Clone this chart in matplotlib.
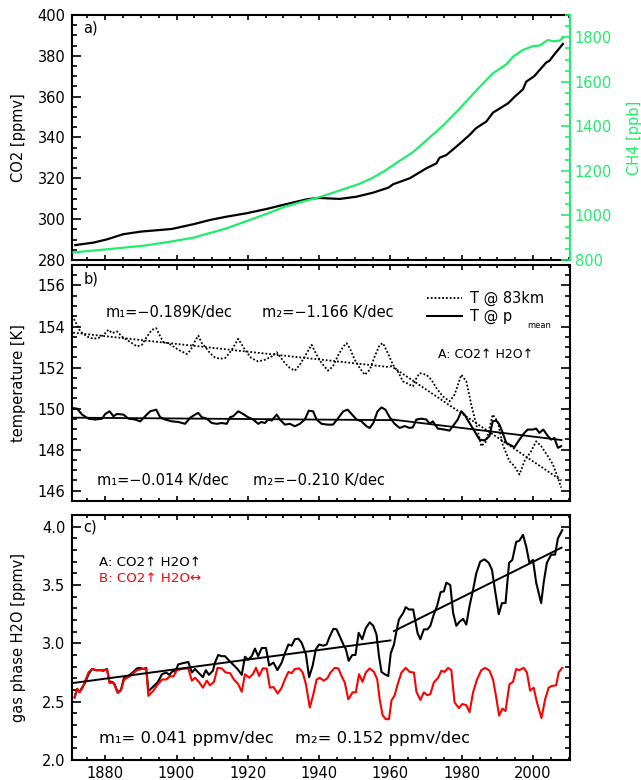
import matplotlib
matplotlib.use('Agg')
import matplotlib.pyplot as plt
from matplotlib.ticker import MultipleLocator, FormatStrFormatter

# ---------------- data ----------------
co2_year = [1871.6, 1876.7, 1880.5, 1885.0, 1890.0, 1895.4, 1898.7, 1904.7, 1909.4, 1914.0,
            1919.7, 1925.3, 1930.9, 1936.5, 1939.8, 1945.8, 1950.5, 1955.2, 1959.4, 1960.8,
            1965.4, 1970.1, 1972.9, 1973.8, 1975.7, 1978.5, 1982.2, 1984.0, 1986.9, 1988.8,
            1993.0, 1994.9, 1997.2, 1998.1, 2000.4, 2003.7, 2004.6, 2006.0, 2008.4]
co2 = [287.3, 288.5, 290.1, 292.6, 293.9, 294.7, 295.2, 297.5, 299.6, 301.2,
       302.9, 305.0, 307.4, 309.7, 310.4, 309.9, 311.0, 313.0, 315.4, 317.1,
       320.0, 324.9, 327.3, 330.1, 331.4, 335.5, 341.2, 344.5, 347.8, 352.2,
       356.7, 360.0, 363.6, 367.3, 370.1, 376.7, 377.5, 380.7, 385.8]

ch4_year = [1871.1, 1880.5, 1890.7, 1898.2, 1904.7, 1914.0, 1919.2, 1924.9, 1930.4, 1936.0,
            1939.3, 1945.4, 1951.0, 1954.8, 1958.5, 1962.2, 1966.4, 1970.1, 1974.8, 1979.4,
            1984.1, 1988.8, 1992.5, 1994.4, 1997.2, 2000.0, 2001.9, 2004.2, 2005.6, 2007.5, 2008.4]
ch4 = [834, 848, 864, 882, 900, 942, 972, 1005, 1039, 1065,
       1078, 1110, 1140, 1167, 1201, 1241, 1285, 1337, 1404, 1479,
       1561, 1639, 1678, 1713, 1743, 1760, 1763, 1788, 1782, 1785, 1797]

t83_year = [1870.7, 1871.6, 1873.0, 1874.9, 1876.7, 1878.6, 1880.0, 1880.9, 1881.9, 1883.3,
            1884.7, 1886.1, 1887.5, 1888.9, 1890.3, 1891.7, 1893.1, 1894.3, 1895.2, 1896.3,
            1897.7, 1899.1, 1900.5, 1901.9, 1902.9, 1904.0, 1905.2, 1906.1, 1907.1, 1908.3,
            1909.4, 1910.8, 1912.2, 1913.6, 1914.8, 1915.9, 1917.3, 1919.2, 1921.0, 1922.9,
            1924.8, 1926.7, 1928.1, 1929.0, 1930.4, 1931.8, 1933.2, 1934.6, 1936.0, 1937.9,
            1939.3, 1940.7, 1942.5, 1943.9, 1945.4, 1946.8, 1947.7, 1948.6, 1950.0, 1951.4,
            1952.8, 1954.2, 1955.6, 1957.0, 1957.9, 1959.3, 1960.7, 1962.1, 1963.5, 1964.5,
            1966.3, 1967.3, 1968.2, 1970.1, 1971.5, 1972.9, 1974.7, 1976.6, 1978.0, 1979.9,
            1981.3, 1982.7, 1984.1, 1985.5, 1986.9, 1988.7, 1990.1, 1991.5, 1993.4, 1994.8,
            1996.2, 1997.6, 1999.5, 2000.9, 2002.3, 2004.2, 2005.6, 2007.0, 2007.9]
t83 = [154.53, 154.24, 153.76, 153.51, 153.40, 153.47, 153.68, 153.84, 153.68, 153.76,
       153.51, 153.35, 153.19, 153.03, 153.11, 153.51, 153.84, 153.92, 153.60, 153.24,
       153.19, 153.03, 152.87, 152.75, 152.66, 152.87, 153.30, 153.56, 153.19, 152.95,
       152.70, 152.49, 152.43, 152.46, 152.70, 152.98, 153.40, 152.87, 152.46, 152.30,
       152.38, 152.54, 152.75, 152.54, 152.22, 151.98, 151.85, 152.14, 152.54, 153.11,
       152.62, 152.22, 151.85, 152.06, 152.62, 153.03, 153.19, 152.95, 152.38, 151.98,
       151.65, 151.89, 152.54, 153.11, 153.19, 152.70, 152.14, 151.81, 151.33, 151.25,
       151.08, 151.49, 151.73, 151.65, 151.41, 151.00, 150.60, 150.36, 150.68, 151.65,
       151.33, 150.19, 149.22, 148.17, 148.41, 149.71, 149.38, 148.25, 147.44, 147.20,
       146.79, 147.44, 147.93, 148.41, 148.17, 147.68, 147.28, 146.63, 146.15]

tp_year = [1870.7, 1872.1, 1873.5, 1875.3, 1877.2, 1879.1, 1880.0, 1881.2, 1882.3, 1883.3,
           1885.1, 1886.5, 1888.4, 1889.8, 1891.2, 1892.6, 1894.3, 1895.4, 1896.8, 1898.7,
           1900.5, 1902.4, 1903.8, 1905.2, 1906.1, 1907.1, 1908.5, 1909.9, 1911.3, 1912.7,
           1914.1, 1915.0, 1915.9, 1917.3, 1918.2, 1920.1, 1921.5, 1922.9, 1923.8, 1924.8,
           1925.7, 1926.7, 1928.1, 1929.0, 1930.4, 1931.8, 1933.2, 1934.6, 1936.0, 1937.1,
           1938.3, 1939.3, 1940.7, 1942.5, 1943.9, 1945.4, 1946.8, 1948.0, 1949.1, 1950.5,
           1951.9, 1953.3, 1954.2, 1955.2, 1956.4, 1957.5, 1958.6, 1959.8, 1961.2, 1962.6,
           1964.0, 1965.4, 1966.3, 1967.3, 1968.7, 1970.1, 1971.0, 1971.9, 1973.3, 1975.2,
           1976.6, 1977.5, 1978.9, 1979.9, 1980.8, 1982.2, 1983.6, 1985.0, 1986.4, 1987.8,
           1988.7, 1989.7, 1990.6, 1991.5, 1992.5, 1993.4, 1994.8, 1996.2, 1997.6, 1998.5,
           1999.9, 2000.9, 2001.8, 2002.9, 2004.2, 2005.1, 2006.0, 2007.0, 2007.9]
tp = [150.03, 150.00, 149.71, 149.51, 149.47, 149.51, 149.74, 149.87, 149.63, 149.74,
      149.71, 149.51, 149.47, 149.38, 149.63, 149.87, 149.95, 149.58, 149.47, 149.38,
      149.35, 149.26, 149.55, 149.71, 149.79, 149.58, 149.51, 149.30, 149.26, 149.30,
      149.26, 149.58, 149.63, 149.87, 149.79, 149.58, 149.47, 149.26, 149.35, 149.30,
      149.47, 149.42, 149.71, 149.47, 149.22, 149.26, 149.14, 149.26, 149.47, 149.90,
      149.87, 149.47, 149.26, 149.22, 149.22, 149.55, 149.87, 149.95, 149.74, 149.47,
      149.38, 149.14, 149.06, 149.30, 149.87, 150.06, 149.95, 149.58, 149.26, 149.06,
      149.15, 149.06, 149.09, 149.47, 149.51, 149.47, 149.26, 149.38, 149.03, 148.98,
      148.93, 149.14, 149.47, 149.87, 149.71, 149.30, 148.90, 148.49, 148.45, 148.66,
      149.38, 149.42, 149.22, 148.82, 148.33, 148.25, 148.12, 148.49, 148.82, 148.98,
      148.98, 149.03, 148.82, 148.98, 148.66, 148.49, 148.57, 148.09, 148.17]

# trend lines (end points)
trend_year1 = [1871, 1960]
trend_year2 = [1960, 2008]
t83_trend1 = [153.70, 152.02]
t83_trend2 = [152.10, 146.50]
tp_trend1 = [149.56, 149.44]
tp_trend2 = [149.48, 148.47]

h2o_a_year = [1871.4, 1872.1, 1872.8, 1873.5, 1874.4, 1875.3, 1876.3, 1877.5, 1878.6, 1879.5,
              1880.5, 1881.2, 1881.9, 1882.6, 1883.5, 1884.4, 1885.3, 1886.5, 1887.7, 1888.9,
              1889.8, 1890.7, 1891.5, 1892.1, 1893.5, 1894.8, 1895.9, 1897.1, 1898.0, 1899.0,
              1899.6, 1900.5, 1901.8, 1903.3, 1904.3, 1905.2, 1906.1, 1907.4, 1908.2, 1909.1,
              1910.2, 1910.8, 1911.7, 1912.7, 1913.6, 1914.5, 1915.8, 1917.1, 1918.3, 1919.2,
              1920.1, 1921.1, 1922.0, 1922.9, 1923.9, 1925.1, 1926.0, 1927.2, 1928.3, 1929.5,
              1930.4, 1931.4, 1932.3, 1933.2, 1934.2, 1935.1, 1936.3, 1937.2, 1938.2, 1939.1,
              1940.0, 1941.2, 1942.1, 1943.0, 1944.0, 1944.9, 1945.8, 1946.8, 1947.5, 1948.3,
              1949.3, 1950.2, 1951.1, 1952.1, 1953.1, 1954.2, 1955.2, 1956.1, 1956.8, 1957.5,
              1958.4, 1959.4, 1960.1, 1961.0, 1961.7, 1962.4, 1963.6, 1964.3, 1965.2, 1966.4,
              1967.1, 1967.6, 1968.4, 1969.4, 1970.4, 1971.2, 1972.2, 1973.1, 1974.1, 1975.0,
              1975.7, 1976.8, 1977.6, 1978.5, 1979.4, 1980.4, 1981.3, 1982.2, 1983.2, 1984.1,
              1985.2, 1986.4, 1987.6, 1988.5, 1989.4, 1990.4, 1991.3, 1992.3, 1993.3, 1994.2,
              1995.3, 1996.2, 1997.2, 1998.1, 1999.0, 2000.0, 2000.9, 2002.3, 2003.0, 2003.9,
              2005.1, 2006.2, 2007.0, 2008.2]
h2o_a = [2.537, 2.61, 2.585, 2.62, 2.665, 2.735, 2.78, 2.77, 2.77, 2.765,
         2.78, 2.67, 2.67, 2.65, 2.58, 2.60, 2.71, 2.72, 2.75, 2.785,
         2.79, 2.78, 2.79, 2.59, 2.63, 2.67, 2.735, 2.75, 2.73, 2.765,
         2.755, 2.82, 2.83, 2.84, 2.75, 2.78, 2.75, 2.71, 2.77, 2.73,
         2.765, 2.835, 2.90, 2.89, 2.89, 2.86, 2.82, 2.78, 2.73, 2.885,
         2.86, 2.89, 2.955, 2.89, 2.96, 2.96, 2.81, 2.835, 2.77, 2.835,
         2.915, 2.99, 2.98, 3.035, 3.04, 3.005, 2.905, 2.71, 2.81, 2.95,
         2.99, 2.98, 2.99, 3.06, 3.125, 3.12, 3.06, 2.99, 2.95, 2.85,
         2.90, 2.90, 3.09, 3.035, 3.13, 3.18, 3.15, 3.075, 2.89, 2.755,
         2.735, 2.72, 2.915, 2.99, 3.105, 3.205, 3.26, 3.31, 3.29, 3.29,
         3.175, 3.09, 3.035, 3.12, 3.12, 3.15, 3.25, 3.32, 3.44, 3.445,
         3.52, 3.50, 3.26, 3.15, 3.185, 3.21, 3.16, 3.32, 3.46, 3.60,
         3.70, 3.72, 3.69, 3.63, 3.445, 3.25, 3.345, 3.345, 3.69, 3.715,
         3.87, 3.88, 3.93, 3.83, 3.69, 3.715, 3.52, 3.345, 3.52, 3.69,
         3.76, 3.76, 3.90, 3.97]

h2o_b_year = [1871.4, 1872.1, 1872.8, 1873.5, 1874.4, 1875.3, 1876.3, 1877.5, 1878.6, 1880.5,
              1881.2, 1882.3, 1883.5, 1884.4, 1885.3, 1887.0, 1888.9, 1890.3, 1891.5, 1892.1,
              1893.5, 1894.8, 1895.9, 1897.1, 1898.2, 1899.1, 1900.1, 1901.5, 1903.3, 1904.3,
              1905.2, 1906.4, 1907.4, 1908.5, 1909.4, 1910.5, 1911.5, 1912.7, 1913.8, 1915.0,
              1916.1, 1917.3, 1918.3, 1919.2, 1920.4, 1921.4, 1922.3, 1923.2, 1924.2, 1925.3,
              1926.2, 1927.2, 1928.4, 1929.5, 1930.4, 1931.4, 1932.3, 1933.2, 1934.4, 1935.4,
              1936.3, 1937.4, 1938.4, 1939.3, 1940.2, 1941.3, 1942.3, 1943.2, 1944.4, 1945.4,
              1946.3, 1947.2, 1948.2, 1949.4, 1950.3, 1951.2, 1952.2, 1953.1, 1954.2, 1955.4,
              1956.3, 1957.0, 1957.8, 1958.7, 1959.6, 1960.3, 1961.2, 1961.9, 1963.1, 1964.3,
              1965.4, 1966.6, 1967.3, 1968.4, 1969.4, 1970.4, 1971.2, 1972.2, 1973.4, 1974.3,
              1975.2, 1976.2, 1977.1, 1978.0, 1979.2, 1980.2, 1981.3, 1982.2, 1983.2, 1984.3,
              1985.5, 1986.6, 1987.8, 1988.8, 1989.7, 1990.5, 1991.4, 1992.3, 1993.4, 1994.4,
              1995.3, 1996.2, 1997.4, 1998.3, 1999.2, 2000.2, 2001.1, 2002.4, 2003.4, 2004.4,
              2005.3, 2006.5, 2007.2, 2008.2]
h2o_b = [2.537, 2.61, 2.58, 2.61, 2.68, 2.75, 2.78, 2.77, 2.77, 2.775,
         2.66, 2.665, 2.575, 2.595, 2.69, 2.72, 2.77, 2.78, 2.785, 2.55,
         2.595, 2.65, 2.69, 2.69, 2.72, 2.715, 2.77, 2.78, 2.785, 2.68,
         2.705, 2.665, 2.62, 2.68, 2.64, 2.67, 2.79, 2.785, 2.75, 2.745,
         2.69, 2.65, 2.585, 2.735, 2.705, 2.735, 2.79, 2.72, 2.785, 2.785,
         2.62, 2.625, 2.57, 2.62, 2.69, 2.755, 2.745, 2.78, 2.785, 2.75,
         2.65, 2.45, 2.565, 2.69, 2.705, 2.68, 2.70, 2.75, 2.79, 2.785,
         2.72, 2.665, 2.52, 2.58, 2.58, 2.735, 2.67, 2.75, 2.785, 2.755,
         2.69, 2.52, 2.385, 2.35, 2.35, 2.51, 2.555, 2.635, 2.75, 2.79,
         2.755, 2.75, 2.585, 2.515, 2.58, 2.555, 2.565, 2.665, 2.705, 2.765,
         2.755, 2.79, 2.77, 2.495, 2.445, 2.48, 2.47, 2.41, 2.58, 2.69,
         2.77, 2.79, 2.765, 2.69, 2.535, 2.38, 2.44, 2.42, 2.65, 2.67,
         2.78, 2.77, 2.79, 2.75, 2.595, 2.62, 2.495, 2.36, 2.52, 2.62,
         2.635, 2.64, 2.75, 2.79]

h2o_trend_year1 = [1871, 1960]
h2o_trend_year2 = [1961, 2008]
h2o_trend1 = [2.66, 3.025]
h2o_trend2 = [3.105, 3.82]

GREEN = '#1EEE6A'
DOT = (0, (1, 1.1))

plt.rcParams['font.family'] = ['DejaVu Sans']
plt.rcParams['font.size'] = 10.5
plt.rcParams['mathtext.fontset'] = 'dejavusans'

fig = plt.figure(figsize=(6.41, 7.80), dpi=100)
L, W = 0.1119, 0.7774
axa = fig.add_axes([L, 0.6667, W, 0.3141])
axb = fig.add_axes([L, 0.3577, W, 0.3026])
axc = fig.add_axes([L, 0.02564, W, 0.3141])


def style(ax, ymaj, ymin, right=True):
    ax.set_xlim(1870.6, 2010.4)
    ax.xaxis.set_major_locator(MultipleLocator(20))
    ax.xaxis.set_minor_locator(MultipleLocator(5))
    ax.yaxis.set_major_locator(MultipleLocator(ymaj))
    ax.yaxis.set_minor_locator(MultipleLocator(ymin))
    ax.tick_params(which='both', direction='in', top=True, right=right, width=1.2)
    ax.tick_params(axis='y', which='major', length=6.5, pad=4.5)
    ax.tick_params(axis='y', which='minor', length=3.3)
    ax.tick_params(axis='x', which='major', length=3.8, pad=4.5)
    ax.tick_params(axis='x', which='minor', length=2.2)
    for s in ax.spines.values():
        s.set_linewidth(1.5)


# ---------------- panel a ----------------
style(axa, 20, 5, right=False)
axa.set_ylim(280, 400)
axa.tick_params(labelbottom=False)
axa.spines['right'].set_visible(False)
axa.plot(co2_year, co2, color='black', lw=1.6)
axa.set_ylabel('CO2 [ppmv]')
axa.yaxis.set_label_coords(-0.092, 0.5)
axa.text(0.023, 0.947, 'a)', transform=axa.transAxes, va='center', ha='left')

axa2 = axa.twinx()
axa2.set_ylim(800, 1900)
axa2.set_xlim(1870.6, 2010.4)
axa2.plot(ch4_year, ch4, color=GREEN, lw=1.6)
axa2.yaxis.set_major_locator(MultipleLocator(200))
axa2.yaxis.set_minor_locator(MultipleLocator(50))
axa2.tick_params(axis='y', which='both', direction='in', colors=GREEN, width=1.2)
axa2.tick_params(axis='y', which='major', length=6.5, pad=3.5)
axa2.tick_params(axis='y', which='minor', length=3.3)
for k in ['left', 'top', 'bottom']:
    axa2.spines[k].set_visible(False)
axa2.spines['right'].set_color(GREEN)
axa2.spines['right'].set_linewidth(1.5)
axa2.set_ylabel('CH4 [ppb]', color=GREEN)
axa2.yaxis.set_label_coords(1.114, 0.5)

# ---------------- panel b ----------------
style(axb, 2, 0.5)
axb.set_ylim(145.5, 157.0)
axb.tick_params(labelbottom=False)
axb.plot(t83_year, t83, color='black', lw=1.3, ls=DOT)
axb.plot(trend_year1, t83_trend1, color='black', lw=1.3, ls=DOT)
axb.plot(trend_year2, t83_trend2, color='black', lw=1.3, ls=DOT)
axb.plot(tp_year, tp, color='black', lw=1.5)
axb.plot(trend_year1, tp_trend1, color='black', lw=1.3)
axb.plot(trend_year2, tp_trend2, color='black', lw=1.3)
axb.set_ylabel('temperature [K]')
axb.yaxis.set_label_coords(-0.092, 0.5)
axb.text(0.023, 0.94, 'b)', transform=axb.transAxes, va='center', ha='left')
axb.text(0.069, 0.80, 'm\u2081=\u22120.189K/dec', transform=axb.transAxes, va='center', ha='left')
axb.text(0.382, 0.80, 'm\u2082=\u22121.166 K/dec', transform=axb.transAxes, va='center', ha='left')
axb.text(0.051, 0.085, 'm\u2081=\u22120.014 K/dec', transform=axb.transAxes, va='center', ha='left')
axb.text(0.364, 0.085, 'm\u2082=\u22120.210 K/dec', transform=axb.transAxes, va='center', ha='left')
# legend
axb.plot([0.713, 0.784], [0.860, 0.860], transform=axb.transAxes, color='black', lw=1.3, ls=DOT)
axb.text(0.799, 0.860, 'T @ 83km', transform=axb.transAxes, va='center', ha='left')
axb.plot([0.713, 0.784], [0.784, 0.784], transform=axb.transAxes, color='black', lw=1.5)
axb.text(0.799, 0.784, 'T @ p', transform=axb.transAxes, va='center', ha='left')
axb.text(0.915, 0.745, 'mean', transform=axb.transAxes, va='center', ha='left', fontsize=6)
axb.text(0.735, 0.619, 'A: CO2\u2191 H2O\u2191', transform=axb.transAxes, va='center',
         ha='left', fontsize=9)

# ---------------- panel c ----------------
style(axc, 0.5, 0.1)
axc.set_ylim(2.0, 4.1)
axc.yaxis.set_major_formatter(FormatStrFormatter('%.1f'))
axc.plot(h2o_a_year, h2o_a, color='black', lw=1.5)
axc.plot(h2o_b_year, h2o_b, color='#FF0000', lw=1.5)
axc.plot(h2o_trend_year1, h2o_trend1, color='black', lw=1.4)
axc.plot(h2o_trend_year2, h2o_trend2, color='black', lw=1.4)
axc.set_ylabel('gas phase H2O [ppmv]')
axc.yaxis.set_label_coords(-0.092, 0.5)
axc.text(0.023, 0.951, 'c)', transform=axc.transAxes, va='center', ha='left')
axc.text(0.055, 0.808, 'A: CO2\u2191 H2O\u2191', transform=axc.transAxes, va='center',
         ha='left', color='black', fontsize=9.6)
axc.text(0.055, 0.739, 'B: CO2\u2191 H2O\u2194', transform=axc.transAxes, va='center',
         ha='left', color='#FF0000', fontsize=9.6)
axc.text(0.055, 0.086, 'm\u2081= 0.041 ppmv/dec', transform=axc.transAxes, va='center', ha='left',
         fontsize=11.8)
axc.text(0.448, 0.086, 'm\u2082= 0.152 ppmv/dec', transform=axc.transAxes, va='center', ha='left',
         fontsize=11.8)

fig.savefig('out.png', dpi=100)
